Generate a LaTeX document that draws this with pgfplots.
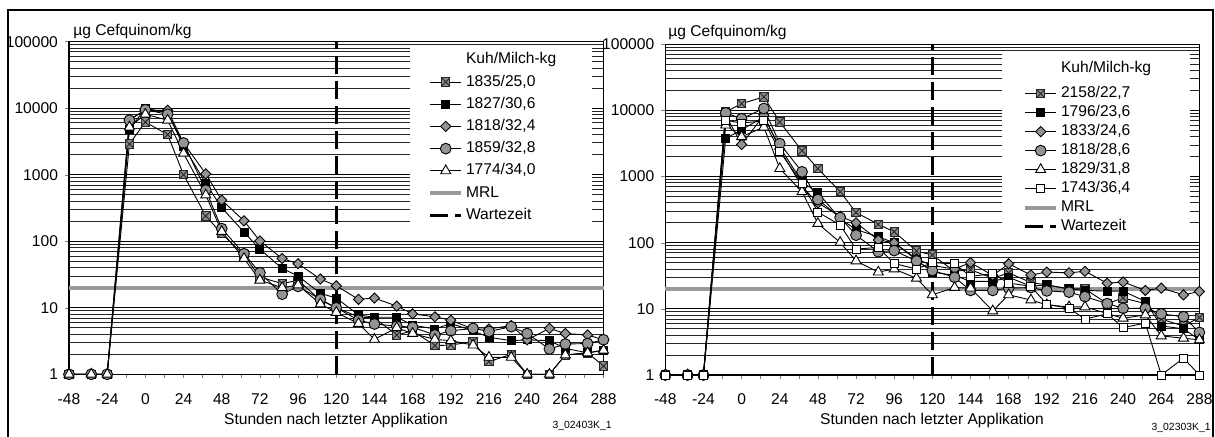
\documentclass[border=0pt]{standalone}
\usepackage{fontspec}
\setmainfont{Liberation Sans}
\usepackage{pgfplots}
\pgfplotsset{compat=1.18}
\usepackage{pgfplotstable}
\newcommand\fs{\fontsize{7.8}{9.4}\selectfont}
\pgfdeclareplotmark{xsq}{%
  \pgfpathrectangle{\pgfpoint{-\pgfplotmarksize}{-\pgfplotmarksize}}{\pgfpoint{2\pgfplotmarksize}{2\pgfplotmarksize}}%
  \pgfusepathqfillstroke
  \pgfpathmoveto{\pgfpoint{-\pgfplotmarksize}{-\pgfplotmarksize}}\pgfpathlineto{\pgfpoint{\pgfplotmarksize}{\pgfplotmarksize}}%
  \pgfpathmoveto{\pgfpoint{-\pgfplotmarksize}{\pgfplotmarksize}}\pgfpathlineto{\pgfpoint{\pgfplotmarksize}{-\pgfplotmarksize}}%
  \pgfusepathqstroke}

\pgfplotstableread{
t   s1    s2    s3    s4    s5
-48 1     1     1     1     1
-34 1     1     1     1     1
-24 1     1     1     1     1
-10 2900  4800  6800  6600  5200
0   6200  10000 9300  9500  8100
14  4000  8500  9300  8100  6600
24  1000  2700  3000  3000  2100
38  240   740   1030  585   495
48  130   320   415   155   140
62  62    137   203   65    55
72  29    76    101   33.6  26
86  23    39    55    16    20
96  26    30    46    21    22
110 13    16.5  27    13.4  11.4
120 10    14    21.4  10    8.5
134 7.3   7.8   13.4  6.5   5.8
144 7     7.2   14    5.7   3.35
158 3.9   7.2   10.6  5.3   5.0
168 4.5   5.5   8.1   5.1   4.1
182 2.7   4.8   7.3   3.9   3.35
192 2.75  5.8   6.5   4.5   3.2
206 3.1   4.5   4.8   4.9   2.75
216 1.55  3.6   4.8   4.4   1.8
230 2.0   3.2   5.4   5.2   1.8
240 1     3.3   3.3   4.1   1
254 1     3.2   4.9   2.4   1
264 1.95  2.45  4.1   2.85  1.95
278 2.1   2.1   3.9   2.9   2.1
288 1.33  2.3   3.3   3.3   2.3
}\lefttab

\pgfplotstableread{
t   r1    r2    r3    r4    r5    r6
-48 1     1     1     1     1     1
-34 1     1     1     1     1     1
-24 1     1     1     1     1     1
-10 9500  3760  8500  9200  6000  7100
0   12700 5100  3050  7500  4000  6450
14  16000 8000  8500  10700 5600  6950
24  6700  2800  2600  3150  1320  2400
38  2450  830   700   1180  590   790
48  1320  570   400   450   195   290
62  590   230   250   240   101   185
72  286   158   200   130   53    80
86  190   123   110   73    36    85
96  146   100   100   76    40    48.5
110 75    55    57    53    29    40
120 65    36    45    38    16.3  50
134 37    32    40    30    21    48
144 39    26    50    19    20.6  31
158 29    26    32    19    9.3   34
168 35    30    48    20.6  16.3  24.5
182 25    22    32.5  21    13.6  22
192 23    23    36    18.7  11.5  11.7
206 20    20    35    17.9  10.7  10.2
216 20    19    37    15.3  10.7  7.0
230 12    18.5  24.4  12    8.5   8.4
240 14.6  18.5  25.5  10.2  7.2   5.2
254 12    13    19    10.2  8.1   6.1
264 7     5.5   20.6  8.4   3.9   1
278 5.5   5.0   16.3  7.6   3.6   1.8
288 7.4   3.4   18.3  4.4   3.4   1
}\righttab

\tikzset{
  sA/.style={black, line width=0.45pt, mark=xsq, mark size=2.1pt, mark options={fill=black!45, draw=black!85, solid}},
  sB/.style={black, line width=0.45pt, mark=square*, mark size=2pt, mark options={fill=black, solid}},
  sC/.style={black, line width=0.45pt, mark=square*, mark size=1.8pt, mark options={fill=black!42, rotate=45, solid}},
  sD/.style={black, line width=0.45pt, mark=*, mark size=2.7pt, mark options={fill=black!42, solid}},
  sE/.style={black, line width=0.45pt, mark=triangle*, mark size=2.9pt, mark options={fill=white, solid}},
  sF/.style={black, line width=0.45pt, mark=square*, mark size=2pt, mark options={fill=white, solid}},
  mrl/.style={black!40, line width=2pt},
  wz/.style={black, line width=1.5pt, dash pattern=on 9pt off 3.5pt},
}

\pgfplotsset{every axis/.append style={
    scale only axis,
    xmin=-48, xmax=288, ymin=1, ymax=100000,
    xtick={-48,-24,...,288},
    xticklabels={-48,-24,0,24,48,72,96,120,144,168,192,216,240,264,288},
    minor x tick num=1,
    ytick={1,10,100,1000,10000,100000},
    yticklabels={1,10,100,1000,10000,100000},
    ymajorgrids=true, yminorgrids=true,
    xtick pos=bottom, ytick pos=left,
    tick align=outside, major tick length=2pt, minor tick length=2pt,
    tick label style={font=\fs},
    x tick label style={yshift=-4pt},
    grid style={black!85, line width=0.5pt},
    major grid style={black, line width=0.5pt},
    axis line style={line width=0.6pt},
    clip=false,
    legend cell align=left,
}}

\begin{document}
\begin{tikzpicture}
\useasboundingbox (0,0) rectangle (607.5pt,218.5pt);
\draw[line width=0.75pt] (4pt,0pt) -- (4pt,213.5pt) -- (606.5pt,213.5pt) -- (606.5pt,0pt);

% ---------- left chart ----------
\begin{semilogyaxis}[anchor=south west, at={(34.5pt,31.35pt)}, width=267.25pt, height=166.3pt,
  minor y tick style={draw=none},
  legend image code/.code={\draw[mark repeat=2,mark phase=2,#1] plot coordinates {(0pt,0pt) (7.65pt,0pt) (15.3pt,0pt)};},
  legend style={at={(rel axis cs:0.6717,0.968)}, anchor=north west, draw=none, fill=none,
    inner sep=0pt, row sep=4pt, column sep=1.5pt, font=\fs,
    nodes={inner sep=0pt, text height=5.6pt, text depth=1.5pt}}]
  \fill[white] (rel axis cs:0.6386,0.4187) rectangle (rel axis cs:0.979,0.991);
  \addplot[mrl, forget plot] coordinates {(-48,20) (288,20)};
  \addplot[wz, forget plot] coordinates {(120,1) (120,100000)};
  \addlegendimage{empty legend}\addlegendentry{Kuh/Milch-kg}
  \addplot[sA] table[x=t,y=s1] {\lefttab}; \addlegendentry{1835/25,0}
  \addplot[sB] table[x=t,y=s2] {\lefttab}; \addlegendentry{1827/30,6}
  \addplot[sC] table[x=t,y=s3] {\lefttab}; \addlegendentry{1818/32,4}
  \addplot[sD] table[x=t,y=s4] {\lefttab}; \addlegendentry{1859/32,8}
  \addplot[sE] table[x=t,y=s5] {\lefttab}; \addlegendentry{1774/34,0}
  \addlegendimage{mrl}\addlegendentry{MRL}
  \addlegendimage{wz}\addlegendentry{Wartezeit}
\end{semilogyaxis}

% ---------- right chart ----------
\begin{semilogyaxis}[anchor=south west, at={(332.65pt,31pt)}, width=267.05pt, height=165.35pt,
  minor y tick style={draw=none},
  legend image code/.code={\draw[mark repeat=2,mark phase=2,#1] plot coordinates {(0pt,0pt) (7.65pt,0pt) (15.3pt,0pt)};},
  legend style={at={(rel axis cs:0.6697,0.931)}, anchor=north west, draw=none, fill=none,
    inner sep=0pt, row sep=2.4pt, column sep=1.5pt, font=\fs,
    nodes={inner sep=0pt, text height=5.6pt, text depth=1.5pt}}]
  \fill[white] (rel axis cs:0.631,0.423) rectangle (rel axis cs:0.983,0.970);
  \addplot[mrl, forget plot] coordinates {(-48,20) (288,20)};
  \addplot[wz, forget plot] coordinates {(120,1) (120,100000)};
  \addlegendimage{empty legend}\addlegendentry{\raisebox{3pt}{Kuh/Milch-kg}}
  \addplot[sA] table[x=t,y=r1] {\righttab}; \addlegendentry{2158/22,7}
  \addplot[sB] table[x=t,y=r2] {\righttab}; \addlegendentry{1796/23,6}
  \addplot[sC] table[x=t,y=r3] {\righttab}; \addlegendentry{1833/24,6}
  \addplot[sD] table[x=t,y=r4] {\righttab}; \addlegendentry{1818/28,6}
  \addplot[sE] table[x=t,y=r5] {\righttab}; \addlegendentry{1829/31,8}
  \addplot[sF] table[x=t,y=r6] {\righttab}; \addlegendentry{1743/36,4}
  \addlegendimage{mrl}\addlegendentry{MRL}
  \addlegendimage{wz}\addlegendentry{Wartezeit}
\end{semilogyaxis}

% ---------- texts ----------
\node[anchor=west, font=\fs, inner sep=0pt] at (36.5pt,203pt) {µg Cefquinom/kg};
\node[anchor=west, font=\fs, inner sep=0pt] at (334pt,202.3pt) {µg Cefquinom/kg};
\node[font=\fs, inner sep=0pt] at (168pt,8.5pt) {Stunden nach letzter Applikation};
\node[font=\fs, inner sep=0pt] at (466pt,8.5pt) {Stunden nach letzter Applikation};
\node[anchor=east, font=\fontsize{5.2}{6}\selectfont, inner sep=0pt] at (306pt,5.5pt) {3\_02403K\_1};
\node[anchor=east, font=\fontsize{5.2}{6}\selectfont, inner sep=0pt] at (605.5pt,4.5pt) {3\_02303K\_1};
\end{tikzpicture}
\end{document}
